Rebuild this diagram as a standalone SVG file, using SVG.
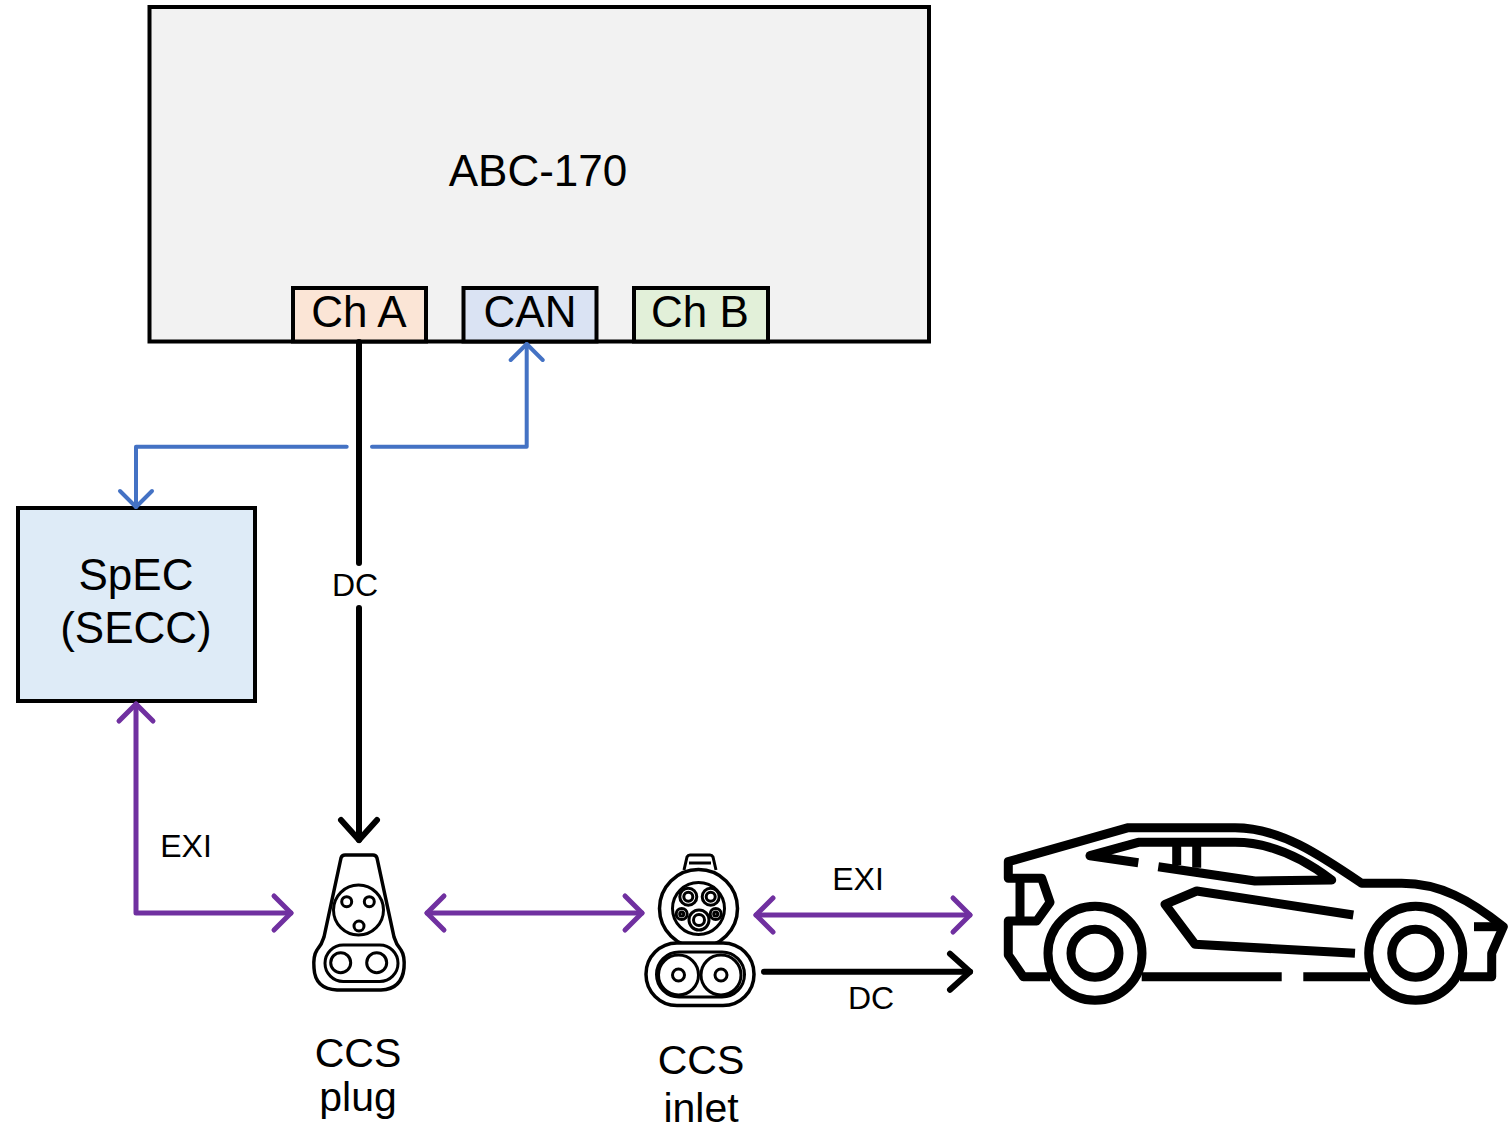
<svg xmlns="http://www.w3.org/2000/svg" width="1511" height="1132" viewBox="0 0 1511 1132">
  <style>
    text { font-family: "Liberation Sans", Arial, sans-serif; fill: #000; text-anchor: middle; }
    .box { stroke: #000; stroke-width: 4; }
    .purple { stroke: #7030a0; stroke-width: 5; fill: none; stroke-linecap: round; stroke-linejoin: round; }
    .blue { stroke: #4472c4; stroke-width: 4; fill: none; stroke-linecap: round; stroke-linejoin: round; }
    .dc { stroke: #000; stroke-width: 6; fill: none; stroke-linecap: round; stroke-linejoin: round; }
    .icon { stroke: #000; stroke-width: 3.5; fill: #fff; stroke-linejoin: round; }
    .iconl { stroke: #000; stroke-width: 3; fill: none; }
    .car { stroke: #000; stroke-width: 9; fill: none; stroke-linejoin: round; }
  </style>
  <defs>
    <marker id="arrPurple" markerUnits="userSpaceOnUse" orient="auto-start-reverse" refX="0" refY="0" overflow="visible">
      <path d="M-17,-17 L0,0 L-17,17" fill="none" stroke="#7030a0" stroke-width="5" stroke-linecap="round" stroke-linejoin="round"/>
    </marker>
    <marker id="arrBlue" markerUnits="userSpaceOnUse" orient="auto-start-reverse" refX="0" refY="0" overflow="visible">
      <path d="M-16,-16 L0,0 L-16,16" fill="none" stroke="#4472c4" stroke-width="4" stroke-linecap="round" stroke-linejoin="round"/>
    </marker>
    <marker id="arrBlack" markerUnits="userSpaceOnUse" orient="auto" refX="0" refY="0" overflow="visible">
      <path d="M-20,-18 L0,0 L-20,18" fill="none" stroke="#000" stroke-width="6" stroke-linecap="round" stroke-linejoin="round"/>
    </marker>
  </defs>

  <rect width="1511" height="1132" fill="#fff"/>

  <!-- charger unit with its three ports -->
  <g id="abc170">
    <rect class="box" x="149.5" y="7" width="779.5" height="334.5" fill="#f2f2f2"/>
    <text x="538" y="186" font-size="44">ABC-170</text>
  </g>
  <g id="chA">
    <rect class="box" x="293" y="288" width="133" height="53.5" fill="#fbe5d6"/>
    <text x="359" y="327" font-size="44">Ch A</text>
  </g>
  <g id="can">
    <rect class="box" x="463.5" y="288" width="133" height="53.5" fill="#dae3f3"/>
    <text x="530" y="327" font-size="44">CAN</text>
  </g>
  <g id="chB">
    <rect class="box" x="634" y="288" width="134" height="53.5" fill="#e2f0d9"/>
    <text x="700" y="327" font-size="44">Ch B</text>
  </g>

  <!-- controller -->
  <g id="spec">
    <rect class="box" x="18" y="508" width="237" height="193" fill="#deebf7"/>
    <text x="136" y="590" font-size="44">SpEC</text>
    <text x="136" y="643" font-size="44">(SECC)</text>
  </g>

  <!-- CCS plug -->
  <g id="ccsPlug">
    <path class="icon" d="M345,855 L373,855 Q376,855 377,858 L394,937 Q396,944 401,950 Q405,956 404,968 Q402,989 381,990 L337,990 Q315,989 314,968 Q313,956 317,950 Q322,944 324,937 L341,858 Q342,855 345,855 Z"/>
    <circle class="iconl" cx="358.5" cy="910" r="25"/>
    <circle class="iconl" cx="346.7" cy="901.7" r="5"/>
    <circle class="iconl" cx="369.3" cy="901.7" r="5"/>
    <circle class="iconl" cx="359" cy="926" r="5"/>
    <rect class="iconl" x="325" y="945" width="73" height="36.5" rx="18.2"/>
    <circle class="iconl" cx="340.7" cy="962.7" r="10"/>
    <circle class="iconl" cx="376.7" cy="962.7" r="10"/>
    <text x="358" y="1067" font-size="41">CCS</text>
    <text x="358" y="1111" font-size="41">plug</text>
  </g>

  <!-- CCS inlet -->
  <g id="ccsInlet">
    <path class="iconl" d="M684,870 L687,857 Q688,855 690,855 L710,855 Q712,855 713,857 L716,870"/>
    <path class="iconl" d="M689,863 L711,863"/>
    <circle class="icon" cx="698.5" cy="908.5" r="39"/>
    <circle class="iconl" cx="698.5" cy="908.5" r="26"/>
    <circle class="iconl" cx="688.3" cy="896.7" r="8.5"/>
    <circle class="iconl" cx="688.3" cy="896.7" r="4.5"/>
    <circle class="iconl" cx="710.7" cy="896.7" r="8.5"/>
    <circle class="iconl" cx="710.7" cy="896.7" r="4.5"/>
    <circle class="iconl" cx="681.7" cy="914" r="5.5"/>
    <circle class="iconl" cx="681.7" cy="914" r="2"/>
    <circle class="iconl" cx="715.7" cy="914" r="5.5"/>
    <circle class="iconl" cx="715.7" cy="914" r="2"/>
    <circle class="iconl" cx="699" cy="920" r="10"/>
    <circle class="iconl" cx="699" cy="920" r="5.5"/>
    <rect class="icon" x="646" y="943" width="108" height="62.5" rx="31"/>
    <rect class="iconl" x="656.5" y="952" width="88" height="45" rx="22.5"/>
    <circle class="iconl" cx="678.5" cy="975" r="20"/>
    <circle class="iconl" cx="721" cy="975" r="20"/>
    <circle class="iconl" cx="678.5" cy="975" r="6"/>
    <circle class="iconl" cx="721" cy="975" r="6"/>
    <text x="701" y="1074" font-size="41">CCS</text>
    <text x="701" y="1122" font-size="41">inlet</text>
  </g>

  <!-- vehicle -->
  <g id="car">
    <path class="car" d="M1050,976.7 L1023.3,976.7 L1008.3,955 L1008.3,921 L1036.7,921 L1050,902.3 L1041.7,878.3 L1008.3,878.3 L1008.3,861.7 L1128.3,827.7 L1235,827.7 C1280,827.7 1320,855 1361.7,883.3 L1401.7,883.3 C1440,883.3 1470,900 1503.3,926.7 L1491.7,953.3 L1491.7,976.7 L1460,976.7"/>
    <path class="car" d="M1020,878.3 L1020,921"/>
    <path class="car" d="M1474,926.7 L1500,926.7"/>
    <path class="car" d="M1141.7,976.7 L1281.7,976.7 M1303.3,976.7 L1370,976.7"/>
    <path class="car" d="M1138.3,862.7 L1090,855.7 L1138.3,842.3 L1235,842.3 C1278,842.3 1312,865 1331.7,880 L1255,881 L1158.3,866.7"/>
    <path class="car" d="M1176.7,842.3 L1176.7,865 M1196.7,842.3 L1196.7,867.7"/>
    <path class="car" d="M1353.3,915 L1196.7,891 L1165,904.3 L1195,944.3 L1355,953.3"/>
    <circle class="car" cx="1095" cy="953.3" r="47" fill="#fff"/>
    <circle class="car" cx="1095" cy="953.3" r="24"/>
    <circle class="car" cx="1415.7" cy="953.3" r="47" fill="#fff"/>
    <circle class="car" cx="1415.7" cy="953.3" r="24"/>
  </g>

  <!-- connectors -->
  <g id="connectors">
    <!-- DC from Ch A down to the plug -->
    <path class="dc" d="M359,342 L359,563" stroke-linecap="butt"/>
    <path class="dc" d="M359,608 L359,840" stroke-linecap="butt" marker-end="url(#arrBlack)"/>
    <text x="355" y="596" font-size="32">DC</text>
    <!-- CAN bus between charger and controller -->
    <path class="blue" d="M372,446.7 L526.7,446.7 L526.7,344" marker-end="url(#arrBlue)"/>
    <path class="blue" d="M346.7,446.7 L136,446.7 L136,507" marker-end="url(#arrBlue)"/>
    <!-- EXI between controller and plug -->
    <path class="purple" d="M136,704 L136,913 L291,913" marker-start="url(#arrPurple)" marker-end="url(#arrPurple)"/>
    <text x="186" y="857" font-size="32">EXI</text>
    <!-- plug to inlet -->
    <path class="purple" d="M427,913 L642,913" marker-start="url(#arrPurple)" marker-end="url(#arrPurple)"/>
    <!-- inlet to vehicle -->
    <path class="purple" d="M756,915 L970,915" marker-start="url(#arrPurple)" marker-end="url(#arrPurple)"/>
    <text x="858" y="890" font-size="32">EXI</text>
    <path class="dc" d="M764,971.7 L970,971.7" marker-end="url(#arrBlack)"/>
    <text x="871" y="1009" font-size="32">DC</text>
  </g>
</svg>
